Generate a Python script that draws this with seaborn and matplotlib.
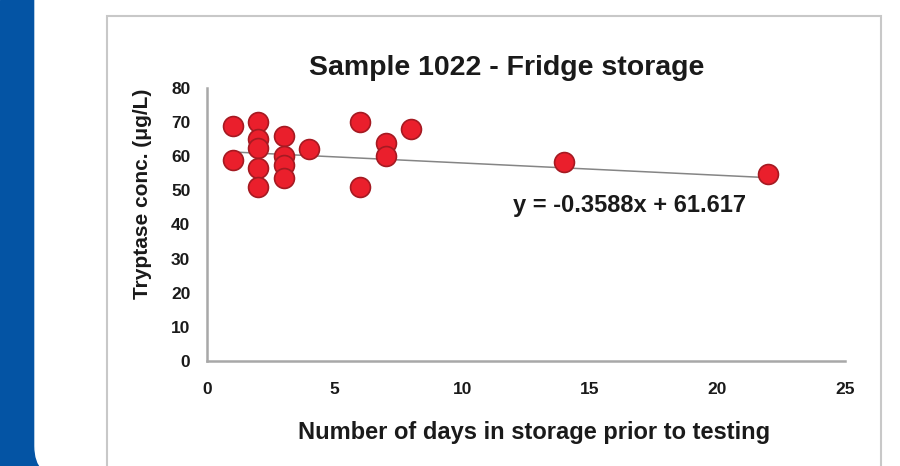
import numpy as np
import pandas as pd
import seaborn as sns
import matplotlib.pyplot as plt
from matplotlib.patches import Rectangle, FancyBboxPatch

# values
days = [1, 1, 2, 2, 2, 2, 2, 3, 3, 3, 3, 4, 6, 6, 7, 7, 8, 14, 22]
conc = [69.0, 59.0, 70.0, 65.0, 62.5, 56.5, 51.0, 65.8, 60.0, 57.5, 53.5, 62.0, 70.0, 51.0, 64.0, 60.0, 68.0, 58.2, 54.8]
slope = -0.3588
intercept = 61.617
x_ticks = [0, 5, 10, 15, 20, 25]
y_ticks = [0, 10, 20, 30, 40, 50, 60, 70, 80]

df = pd.DataFrame({"days": days, "conc": conc})
fit_x = [min(days), max(days)]
fit = pd.DataFrame({"days": fit_x, "conc": [slope * v + intercept for v in fit_x]})

sns.set_theme(style="white")
plt.rcParams['font.family'] = ['Liberation Sans', 'DejaVu Sans']

fig = plt.figure(figsize=(9, 4.66), dpi=100)

# blue side panel, white card with rounded bottom-left corner, chart frame
fig.patches.append(Rectangle((0, 0), 45 / 900, 1, transform=fig.transFigure,
                             color="#0454a4", zorder=0))
fig.patches.append(FancyBboxPatch((35 / 900, -0.025), 0.98, 1.2, transform=fig.transFigure,
                                  boxstyle="round,pad=0,rounding_size=0.035",
                                  mutation_aspect=900 / 466,
                                  color="white", zorder=0.5))
fig.patches.append(Rectangle((107 / 900, -0.05), (881 - 107) / 900, 1.0 - 16 / 466 + 0.05,
                             transform=fig.transFigure, fill=False,
                             edgecolor="#c8c8c8", linewidth=1.5, zorder=1))

ax = fig.add_axes([207 / 900, 1 - 361 / 466, (845 - 207) / 900, (361 - 88) / 466])
ax.set_zorder(3)
ax.patch.set_alpha(0)

sns.lineplot(data=fit, x="days", y="conc", ax=ax, color="#858585", linewidth=1.1, zorder=2)
sns.scatterplot(data=df, x="days", y="conc", ax=ax, s=205, color="#ea1f2c",
                edgecolor="#a51a22", linewidth=1.2, zorder=3)

ax.set_xlim(0, 25)
ax.set_ylim(0, 80)
ax.set_xticks(x_ticks)
ax.set_yticks(y_ticks)
ax.tick_params(axis="x", length=0, pad=15, labelsize=12.5)
ax.tick_params(axis="y", length=0, pad=12, labelsize=12.5)
for lab in ax.get_xticklabels() + ax.get_yticklabels():
    lab.set_fontweight("bold")
    lab.set_color("#1a1a1a")

for side in ["top", "right"]:
    ax.spines[side].set_visible(False)
for side in ["left", "bottom"]:
    ax.spines[side].set_color("#a8a8a8")
    ax.spines[side].set_linewidth(1.8)

ax.set_xlabel("Number of days in storage prior to testing", fontsize=17,
              fontweight="bold", color="#1a1a1a")
ax.xaxis.set_label_coords((534 - 207) / 638, -(433 - 361) / 273)
ax.xaxis.label.set_va("center")
ax.set_ylabel("Tryptase conc. (μg/L)", fontsize=15, fontweight="bold",
              color="#1a1a1a")
ax.yaxis.set_label_coords(-(207 - 152) / 638, (361 - 193.5) / 273)

fig.text(507 / 900, 1 - 68 / 466, "Sample 1022 - Fridge storage", ha="center", va="center",
         fontsize=20.5, fontweight="bold", color="#1a1a1a", zorder=4)

ax.text(12.0, 45.5, "y = -0.3588x + 61.617", ha="left", va="center",
        fontsize=17, fontweight="bold", color="#1a1a1a")

fig.savefig("out.png", dpi=100)
